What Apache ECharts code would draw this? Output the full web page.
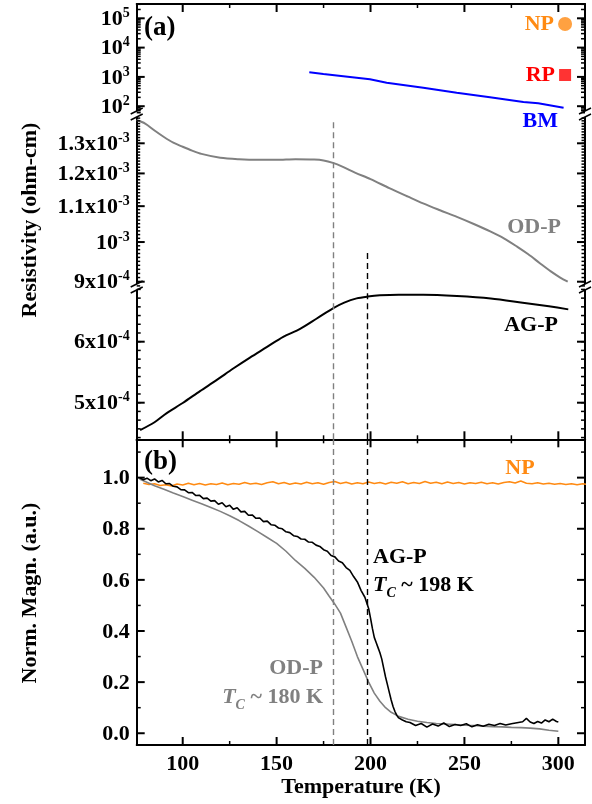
<!DOCTYPE html>
<html>
<head>
<meta charset="utf-8">
<script src="https://cdn.jsdelivr.net/npm/echarts@6/dist/echarts.min.js"></script>
<style>
  html, body { margin: 0; padding: 0; background: #fff; }
  #chart { width: 592px; height: 804px; }
</style>
</head>
<body>
<div id="chart"></div>
<script>
// ---- data ----
// (a) resistivity, ohm-cm
const bmT = [167.4, 174.9, 192.6, 199.7, 208.6, 228.1, 245.9, 263.6, 281.4, 289.3, 302.8];
const bmRho = [1436, 1256, 940, 828, 634, 428, 289, 201, 139, 126, 89];
const npPointT = [303.6];
const npPointRho = [63800];
const rpPointT = [303.6];
const rpPointRho = [1160];

const odT = [75.5, 80, 85, 90, 95, 100, 105, 110, 120, 130, 140, 150, 160, 170, 175, 180, 185, 192,
  200, 210, 220, 228, 237, 246, 255, 264, 271, 278, 284, 290, 296, 301, 305];
const odRho = [1.383e-3, 1.370e-3, 1.345e-3, 1.322e-3, 1.302e-3, 1.288e-3, 1.275e-3, 1.264e-3, 1.251e-3,
  1.246e-3, 1.244e-3, 1.244e-3, 1.246e-3, 1.245e-3, 1.242e-3, 1.234e-3, 1.222e-3, 1.202e-3, 1.182e-3,
  1.154e-3, 1.128e-3, 1.108e-3, 1.088e-3, 1.069e-3, 1.049e-3, 1.028e-3, 1.010e-3, 0.988e-3, 0.968e-3,
  0.946e-3, 0.925e-3, 0.910e-3, 0.900e-3];

const agT = [77.3, 85, 91.5, 100, 109.2, 118, 126.9, 135.8, 144.7, 153.5, 162.5, 171.4, 180.2, 186,
  192.6, 198.5, 205, 215, 228, 246, 264, 281, 295, 305.3];
const agRho = [4.55e-4, 4.68e-4, 4.83e-4, 4.995e-4, 5.19e-4, 5.37e-4, 5.56e-4, 5.74e-4, 5.91e-4, 6.08e-4,
  6.21e-4, 6.38e-4, 6.55e-4, 6.64e-4, 6.71e-4, 6.74e-4, 6.76e-4, 6.77e-4, 6.77e-4, 6.75e-4, 6.71e-4,
  6.64e-4, 6.58e-4, 6.53e-4];

// (b) normalised magnetisation
const mNpT = [79, 82, 85, 88, 91, 94, 97, 100, 103, 106, 109, 112, 115, 118, 121, 124, 127, 130, 133, 136,
  139, 142, 145, 148, 151, 154, 157, 160, 163, 166, 169, 172, 175, 178, 181, 184, 187, 190, 193, 196,
  199, 202, 205, 208, 211, 214, 217, 220, 223, 226, 229, 232, 235, 238, 241, 244, 247, 250, 253, 256,
  259, 262, 265, 268, 271, 274, 277, 280, 283, 286, 289, 292, 295, 298, 301, 304, 307, 310, 313, 315];
const mNp = [0.978, 0.973, 0.976, 0.969, 0.972, 0.967, 0.975, 0.971, 0.978, 0.972, 0.977, 0.971, 0.976,
  0.973, 0.979, 0.972, 0.977, 0.974, 0.981, 0.975, 0.978, 0.973, 0.980, 0.984, 0.976, 0.981, 0.974,
  0.979, 0.975, 0.982, 0.976, 0.980, 0.974, 0.981, 0.985, 0.977, 0.982, 0.975, 0.980, 0.976, 0.983,
  0.977, 0.981, 0.975, 0.982, 0.978, 0.984, 0.976, 0.981, 0.977, 0.985, 0.978, 0.982, 0.976, 0.983,
  0.977, 0.981, 0.975, 0.980, 0.977, 0.982, 0.976, 0.980, 0.975, 0.981, 0.984, 0.979, 0.987, 0.978,
  0.976, 0.980, 0.975, 0.978, 0.974, 0.977, 0.973, 0.976, 0.972, 0.976, 0.974];

const mAgT = [77, 79, 81, 83, 85, 87, 89, 91, 93, 95, 97, 99, 101, 103, 105, 107, 109, 111, 113, 115,
  117, 119, 121, 123, 125, 127, 129, 131, 133, 135, 137, 139, 141, 143, 145, 147, 149, 151, 153, 155,
  157, 159, 161, 163, 165, 167, 169, 171, 173, 175, 177, 179, 181, 183, 185, 187, 189, 191, 193, 195,
  197, 199, 200, 201, 202, 203, 204, 205, 206, 207, 208, 209, 210, 211, 212, 213, 214, 215, 217, 219,
  221, 224, 227, 230, 233, 236, 239, 242, 245, 248, 251, 254, 257, 260, 263, 266, 269, 272, 275, 278,
  281, 283, 285, 287, 289, 291, 293, 295, 297, 299, 300];
const mAg = [1.000, 0.992, 0.998, 0.988, 0.995, 0.983, 0.989, 0.976, 0.977, 0.966, 0.964, 0.953, 0.952,
  0.941, 0.942, 0.930, 0.931, 0.918, 0.920, 0.908, 0.910, 0.896, 0.902, 0.886, 0.892, 0.876, 0.882,
  0.866, 0.868, 0.853, 0.854, 0.841, 0.842, 0.828, 0.830, 0.816, 0.814, 0.803, 0.800, 0.788, 0.785,
  0.773, 0.770, 0.760, 0.759, 0.748, 0.747, 0.736, 0.731, 0.718, 0.712, 0.695, 0.690, 0.674, 0.667,
  0.648, 0.637, 0.613, 0.592, 0.558, 0.532, 0.488, 0.450, 0.410, 0.375, 0.355, 0.335, 0.315, 0.290,
  0.255, 0.220, 0.190, 0.160, 0.130, 0.105, 0.085, 0.070, 0.060, 0.052, 0.045, 0.042, 0.030, 0.038,
  0.024, 0.036, 0.028, 0.040, 0.026, 0.034, 0.030, 0.037, 0.025, 0.033, 0.027, 0.035, 0.030, 0.038,
  0.032, 0.037, 0.041, 0.045, 0.058, 0.044, 0.038, 0.046, 0.040, 0.052, 0.045, 0.055, 0.046, 0.044];

const mOdT = [77, 80, 85, 90, 95, 100, 105, 110, 115, 120, 125, 130, 135, 140, 145, 150, 155, 160, 165,
  170, 175, 178, 181, 184, 187, 190, 193, 196, 199, 202, 205, 208, 211, 215, 220, 225, 230, 235, 240,
  245, 250, 255, 260, 265, 270, 275, 280, 285, 290, 295, 300];
const mOd = [0.995, 0.985, 0.968, 0.955, 0.940, 0.926, 0.912, 0.898, 0.883, 0.868, 0.851, 0.832, 0.811,
  0.789, 0.766, 0.743, 0.712, 0.676, 0.645, 0.610, 0.568, 0.536, 0.505, 0.470, 0.415, 0.360, 0.300,
  0.250, 0.200, 0.157, 0.125, 0.100, 0.082, 0.066, 0.055, 0.047, 0.042, 0.038, 0.036, 0.034, 0.031,
  0.030, 0.028, 0.026, 0.025, 0.023, 0.022, 0.020, 0.017, 0.012, 0.008];

// transition temperatures (dashed guides) and where the guides start in panel (a)
const tcOD = 180, tcAG = 198;
const guideTopOD = 1.375e-3, guideTopAG = 0.971e-3;

// tick values
const xMajor = [100, 150, 200, 250, 300];
const xMinor = [125, 175, 225, 275];
const seg1Major = [1e2, 1e3, 1e4, 1e5];
const seg2Major = [0.9e-3, 1.0e-3, 1.1e-3, 1.2e-3, 1.3e-3];
const seg3Major = [5e-4, 6e-4];
const magMajor = [0, 0.2, 0.4, 0.6, 0.8, 1.0];
const magMinor = [0.1, 0.3, 0.5, 0.7, 0.9, 1.1];

// ---- layout ----
const FONT = 'Liberation Serif';
const X_MIN = 75.5, X_MAX = 314.2;
const AX_L = 136.7, AX_R = 585;
const gridBox = [
  { top: 4, height: 110 },
  { top: 114, height: 173 },
  { top: 287, height: 152.3 },
  { top: 439.3, height: 305.7 }
];
const yRange = [
  [1.734, 5.488],          // seg1, log10 space
  [-3.05188, -2.85225],    // seg2, log10 space
  [4.40e-4, 6.8967e-4],    // seg3, linear
  [-0.046, 1.150]          // panel b
];

const lg = Math.log10;
const seg1Minor = [];
for (let n = 1; n <= 5; n++) for (let k = 2; k <= 9; k++) seg1Minor.push(n + lg(k));
const seg2Minor = [];
for (let k = 89; k <= 139; k++) seg2Minor.push(lg(k * 1e-5));
const seg3Minor = [];
for (let k = -4; k <= 13; k++) seg3Minor.push(5e-4 + k * 1e-4 / 7);

function sciLabel(v) {
  const e = Math.floor(lg(v) + 1e-9);
  const m = Math.round(v / Math.pow(10, e) * 10) / 10;
  return (m === 1 ? '{m|10}' : '{m|' + m + 'x10}') + '{s|' + e + '}';
}
const richLab = {
  m: { fontSize: 22, fontWeight: 'bold', fontFamily: FONT, color: '#000', lineHeight: 24, verticalAlign: 'bottom' },
  s: { fontSize: 14, fontWeight: 'bold', fontFamily: FONT, color: '#000', lineHeight: 14, verticalAlign: 'top' }
};

const yMaj = [seg1Major.map(v => lg(v)), seg2Major.map(v => lg(v)), seg3Major, magMajor];
const yMin = [seg1Minor, seg2Minor, seg3Minor, magMinor];

const axLine = { color: '#000', width: 2 };
const xAxes = [], yAxes = [];
function xAx(g, pos, showLine, label) {
  xAxes.push({
    type: 'value', gridIndex: g, position: pos, min: X_MIN, max: X_MAX,
    axisLine: { show: showLine, onZero: false, lineStyle: axLine },
    axisTick: { show: false },
    axisLabel: label ? Object.assign({ customValues: xMajor }, label) : { show: false },
    splitLine: { show: false }
  });
  return xAxes.length - 1;
}
function yAx(g, pos, label) {
  yAxes.push({
    type: 'value', gridIndex: g, position: pos, min: yRange[g][0], max: yRange[g][1],
    axisLine: { show: true, onZero: false, lineStyle: axLine },
    axisTick: { show: false },
    axisLabel: label ? Object.assign({ customValues: yMaj[g] }, label) : { show: false },
    splitLine: { show: false }
  });
  return yAxes.length - 1;
}

const gx = [];
gx[0] = xAx(0, 'top', true);
gx[1] = xAx(1, 'bottom', false);
gx[2] = xAx(2, 'bottom', true);
gx[3] = xAx(3, 'bottom', true, { margin: 8, fontSize: 22, fontWeight: 'bold', fontFamily: FONT, color: '#000' });
xAx(3, 'top', true);

const yFmt = [
  v => sciLabel(Math.pow(10, v)),
  v => sciLabel(Math.pow(10, v)),
  v => sciLabel(v),
  v => '{m|' + v.toFixed(1) + '}'
];
const gy = [];
for (let g = 0; g < 4; g++) {
  gy[g] = yAx(g, 'left', { margin: 7, formatter: yFmt[g], rich: richLab });
  yAx(g, 'right');
}

const pts = (ts, vs) => ts.map((t, i) => [t, vs[i]]);
const logPts = (ts, vs) => ts.map((t, i) => [t, lg(vs[i])]);

const GREY = '#808080', ORANGE = '#ff8a12', BLUE = '#0000ff', RED = '#ff0000';
const dash = (c) => ({ color: c, width: 1.4, type: [6, 4] });
const ml = (data) => ({ silent: true, symbol: ['none', 'none'], label: { show: false }, animation: false, data: data });

const series = [
  { type: 'line', xAxisIndex: gx[0], yAxisIndex: gy[0], data: logPts(bmT, bmRho), showSymbol: false,
    lineStyle: { color: BLUE, width: 2 } },
  { type: 'scatter', xAxisIndex: gx[0], yAxisIndex: gy[0], data: logPts(npPointT, npPointRho),
    symbol: 'circle', symbolSize: 14, itemStyle: { color: ORANGE } },
  { type: 'scatter', xAxisIndex: gx[0], yAxisIndex: gy[0], data: logPts(rpPointT, rpPointRho),
    symbol: 'rect', symbolSize: 12, itemStyle: { color: RED } },
  { type: 'line', xAxisIndex: gx[1], yAxisIndex: gy[1], data: logPts(odT, odRho), showSymbol: false,
    smooth: 0.3, lineStyle: { color: GREY, width: 2 },
    markLine: ml([
      [{ coord: [tcOD, lg(guideTopOD)], lineStyle: dash(GREY) }, { coord: [tcOD, yRange[1][0]] }],
      [{ coord: [tcAG, lg(guideTopAG)], lineStyle: dash('#000') }, { coord: [tcAG, yRange[1][0]] }]
    ]) },
  { type: 'line', xAxisIndex: gx[2], yAxisIndex: gy[2], data: pts(agT, agRho), showSymbol: false,
    smooth: 0.3, lineStyle: { color: '#000', width: 2 },
    markLine: ml([{ xAxis: tcOD, lineStyle: dash(GREY) }, { xAxis: tcAG, lineStyle: dash('#000') }]) },
  { type: 'line', xAxisIndex: gx[3], yAxisIndex: gy[3], data: pts(mNpT, mNp), showSymbol: false,
    lineStyle: { color: ORANGE, width: 1.5 },
    markLine: ml([{ xAxis: tcOD, lineStyle: dash(GREY) }, { xAxis: tcAG, lineStyle: dash('#000') }]) },
  { type: 'line', xAxisIndex: gx[3], yAxisIndex: gy[3], data: pts(mOdT, mOd), showSymbol: false,
    lineStyle: { color: GREY, width: 1.6 } },
  { type: 'line', xAxisIndex: gx[3], yAxisIndex: gy[3], data: pts(mAgT, mAg), showSymbol: false,
    lineStyle: { color: '#000', width: 1.6 } }
];
const gridSeries = [0, 3, 4, 5];   // one series per grid, used to place the ticks

// ---- annotations ----
const bold = (px) => 'bold ' + px + 'px "' + FONT + '"';
function txt(x, y, s, color, align, vAlign, size, rot) {
  return { type: 'text', x: x, y: y, rotation: rot || 0, z: 100,
    style: { text: s, fill: color, font: bold(size || 22), align: align || 'left', verticalAlign: vAlign || 'middle' } };
}
function tcTxt(x, y, s, color, align) {
  const base = { fontSize: 22, fontWeight: 'bold', fontFamily: FONT, fill: color, lineHeight: 22, verticalAlign: 'top' };
  return { type: 'text', x: x, y: y, z: 100,
    style: { text: '{i|T}{c|C}{n| ~ ' + s + ' K}', align: align, verticalAlign: 'top', fill: color,
      rich: {
        i: Object.assign({}, base, { fontStyle: 'italic' }),
        c: Object.assign({}, base, { fontStyle: 'italic', fontSize: 14, lineHeight: 26, verticalAlign: 'bottom' }),
        n: base
      } } };
}
function brk(x, y) {
  const ls = { stroke: '#000', lineWidth: 1.5 };
  return [
    { type: 'polygon', z: 100, shape: { points: [[x - 6, y], [x + 6, y - 6], [x + 6, y], [x - 6, y + 6]] },
      style: { fill: '#fff', stroke: null } },
    { type: 'line', z: 101, shape: { x1: x - 6, y1: y, x2: x + 6, y2: y - 6 }, style: ls },
    { type: 'line', z: 101, shape: { x1: x - 6, y1: y + 6, x2: x + 6, y2: y }, style: ls }
  ];
}

const graphics = [
  txt(30, 220, 'Resistivity (ohm-cm)', '#000', 'center', 'middle', 22, Math.PI / 2),
  txt(30, 593, 'Norm. Magn. (a.u.)', '#000', 'center', 'middle', 22, Math.PI / 2),
  txt(361, 787, 'Temperature (K)', '#000', 'center', 'middle', 22),
  txt(144, 28, '(a)', '#000', 'left', 'middle', 27),
  txt(144, 462, '(b)', '#000', 'left', 'middle', 27),
  txt(554, 24, 'NP', ORANGE, 'right'),
  txt(555, 75, 'RP', RED, 'right'),
  txt(558, 121, 'BM', BLUE, 'right'),
  txt(561, 227, 'OD-P', GREY, 'right'),
  txt(558, 325, 'AG-P', '#000', 'right'),
  txt(520, 468, 'NP', ORANGE, 'center'),
  txt(373, 557, 'AG-P', '#000', 'left'),
  tcTxt(373, 574, '198', '#000', 'left'),
  txt(323, 668, 'OD-P', GREY, 'right'),
  tcTxt(323, 686, '180', GREY, 'right')
].concat(brk(AX_L, 114), brk(AX_L, 287), brk(AX_R, 114), brk(AX_R, 287));

const chart = echarts.init(document.getElementById('chart'));
chart.setOption({
  animation: false,
  grid: gridBox.map(b => ({ left: AX_L, right: 592 - AX_R, top: b.top, height: b.height,
    containLabel: false, outerBoundsMode: 'none' })),
  xAxis: xAxes,
  yAxis: yAxes,
  series: series,
  graphic: graphics
});

// inward ticks (major and minor), placed with the chart's axis scales;
// if the conversion gives nothing usable, fall back to the same linear grid mapping
function toPx(g, pt) {
  let p = null;
  try { p = chart.convertToPixel({ seriesIndex: gridSeries[g] }, pt); } catch (e) { p = null; }
  if (p && isFinite(p[0]) && isFinite(p[1])) return p;
  const b = gridBox[g], r = yRange[g];
  return [AX_L + (pt[0] - X_MIN) / (X_MAX - X_MIN) * (AX_R - AX_L),
    b.top + b.height - (pt[1] - r[0]) / (r[1] - r[0]) * b.height];
}
const yMinLen = [4, 3.5, 4, 4];
const xTickSides = [[1, 0], null, [0, 1], [1, 1]];
const tickEls = [];
function ln(ax, ay, bx, by, w) {
  tickEls.push({ type: 'line', z: 101, shape: { x1: ax, y1: ay, x2: bx, y2: by },
    style: { stroke: '#000', lineWidth: w } });
}
for (let g = 0; g < 4; g++) {
  const y0 = yRange[g][0], y1 = yRange[g][1];
  const yTick = (v, len, w) => {
    if (v < y0 || v > y1) return;
    const a = toPx(g, [X_MIN, v]), b = toPx(g, [X_MAX, v]);
    ln(a[0], a[1], a[0] + len, a[1], w);
    ln(b[0], b[1], b[0] - len, b[1], w);
  };
  yMaj[g].forEach(v => yTick(v, 8, 2));
  yMin[g].forEach(v => yTick(v, yMinLen[g], 1.5));
  const s = xTickSides[g];
  if (s) {
    const xTick = (v, len, w) => {
      if (s[0]) { const p = toPx(g, [v, y1]); ln(p[0], p[1], p[0], p[1] + len, w); }
      if (s[1]) { const q = toPx(g, [v, y0]); ln(q[0], q[1], q[0], q[1] - len, w); }
    };
    xMajor.forEach(v => xTick(v, 8, 2));
    xMinor.forEach(v => xTick(v, 4, 1.5));
  }
}
chart.setOption({ graphic: graphics.concat(tickEls) });
</script>
</body>
</html>
